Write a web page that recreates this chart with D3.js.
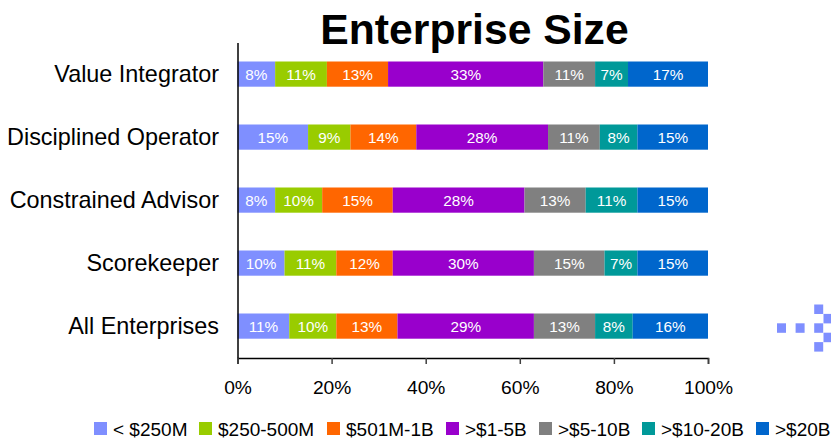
<!DOCTYPE html>
<html>
<head>
<meta charset="utf-8">
<script src="https://cdn.jsdelivr.net/npm/d3@7"></script>
<style>
  html, body { margin: 0; padding: 0; background: #fff; }
  svg { display: block; font-family: "Liberation Sans", Arial, sans-serif; }
</style>
</head>
<body>
<div id="chart"></div>
<script>
// --- Data ---
const categories = ["Value Integrator", "Disciplined Operator", "Constrained Advisor", "Scorekeeper", "All Enterprises"];
const sizeBands = ["< $250M", "$250-500M", "$501M-1B", ">$1-5B", ">$5-10B", ">$10-20B", ">$20B"];
const bandColors = ["#7f8fff", "#99cc00", "#ff6600", "#9900cc", "#808080", "#009999", "#0066cc"];
const under250M = [8, 15, 8, 10, 11];
const m250to500 = [11, 9, 10, 11, 10];
const m501to1B = [13, 14, 15, 12, 13];
const b1to5 = [33, 28, 28, 30, 29];
const b5to10 = [11, 11, 13, 15, 13];
const b10to20 = [7, 8, 11, 7, 8];
const over20B = [17, 15, 15, 15, 16];
const xTicks = [0, 20, 40, 60, 80, 100];
// stray blue squares at the right edge of the picture: [column, row]
const strayCells = [[0, 2], [2, 2], [4, 2], [4, 0], [5, 1], [5, 3], [4, 4]];

const width = 831, height = 438;
const svg = d3.select("#chart").append("svg")
    .attr("width", width)
    .attr("height", height);

// Scales
const x = d3.scaleLinear().domain([0, 100]).range([237.5, 708]);
const y = d3.scaleBand().domain(categories).range([42.6, 357.6]).paddingInner(0.6).paddingOuter(0.3);

const rows = categories.map((c, i) => {
    const values = [under250M, m250to500, m501to1B, b1to5, b5to10, b10to20, over20B].map(s => s[i]);
    const row = { category: c };
    sizeBands.forEach((b, j) => { row[b] = values[j]; });
    return row;
});
const stacked = d3.stack().keys(sizeBands)(rows);

// Stacked bars
const layers = svg.append("g").selectAll("g")
    .data(stacked)
    .enter().append("g")
    .attr("fill", (d, i) => bandColors[i]);

layers.selectAll("rect")
    .data(d => d)
    .enter().append("rect")
    .attr("x", d => x(d[0]))
    .attr("y", d => y(d.data.category))
    .attr("width", d => x(d[1]) - x(d[0]))
    .attr("height", y.bandwidth());

layers.selectAll("text")
    .data(d => d)
    .enter().append("text")
    .attr("x", d => (x(d[0]) + x(d[1])) / 2)
    .attr("y", d => y(d.data.category) + y.bandwidth() / 2 + 5.5)
    .attr("text-anchor", "middle")
    .attr("fill", "#fff")
    .style("font-size", "15.3px")
    .text(d => `${d[1] - d[0]}%`);

// Axes
const xAxis = svg.append("g")
    .attr("transform", "translate(0,358)")
    .call(d3.axisBottom(x).tickValues(xTicks).tickFormat(d => d + "%").tickSize(6).tickSizeOuter(6));
xAxis.select("path").attr("stroke", "#000").attr("stroke-width", 1.5);
xAxis.selectAll("line").attr("stroke", "#404040").attr("stroke-width", 1.5);
xAxis.selectAll("text")
    .attr("fill", "#000")
    .attr("y", 22.5)
    .style("font-size", "19.2px");

const yAxis = svg.append("g")
    .attr("transform", "translate(237.5,0)")
    .call(d3.axisLeft(y).tickSize(0).tickPadding(18.5));
yAxis.select("path").attr("stroke", "#000").attr("stroke-width", 1.5);
yAxis.selectAll("text")
    .attr("fill", "#000")
    .style("font-size", "23.4px");

// Title
svg.append("text")
    .attr("x", 474.5)
    .attr("y", 43.5)
    .attr("text-anchor", "middle")
    .attr("fill", "#000")
    .style("font-size", "42.7px")
    .style("font-weight", "bold")
    .text("Enterprise Size");

// Legend
const legendX = d3.scaleOrdinal().domain(sizeBands).range([94, 199, 327, 446, 539, 642, 756]);
const legend = svg.append("g").selectAll("g")
    .data(sizeBands)
    .enter().append("g")
    .attr("transform", d => `translate(${legendX(d)},422)`);
legend.append("rect")
    .attr("width", 13)
    .attr("height", 13)
    .attr("fill", (d, i) => bandColors[i]);
legend.append("text")
    .attr("x", 19)
    .attr("y", 13.5)
    .attr("fill", "#000")
    .style("font-size", "19px")
    .text(d => d);

// Stray squares
svg.append("g").selectAll("rect")
    .data(strayCells)
    .enter().append("rect")
    .attr("x", d => 777 + d[0] * 9.3)
    .attr("y", d => 304.5 + d[1] * 9.4)
    .attr("width", 9)
    .attr("height", 9.5)
    .attr("fill", bandColors[0]);
</script>
</body>
</html>
